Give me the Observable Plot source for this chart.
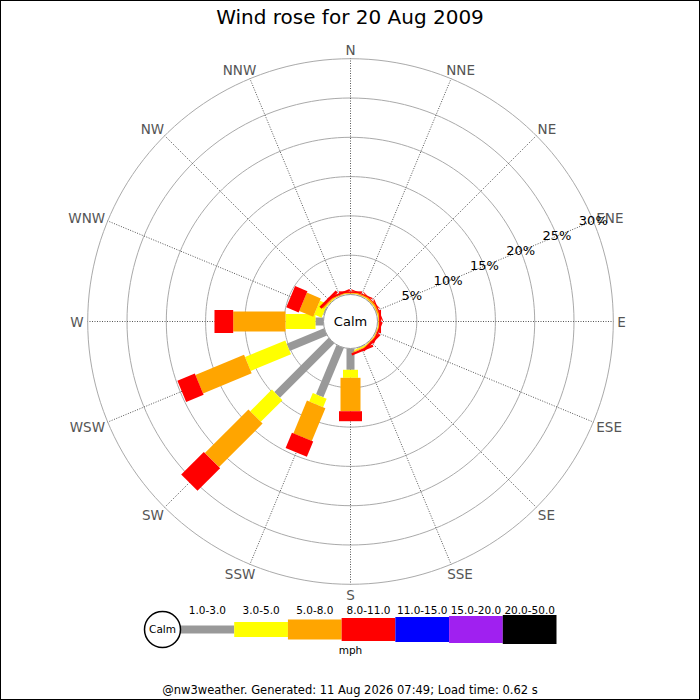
<!DOCTYPE html>
<html><head><meta charset="utf-8">
<script src="https://cdn.jsdelivr.net/npm/d3@7"></script>
<script src="https://cdn.jsdelivr.net/npm/@observablehq/plot@0.6"></script>
<style>
body{margin:0;background:#fff;font-family:"DejaVu Sans",sans-serif;}
#wrap{position:relative;width:700px;height:700px;overflow:hidden;background:#fff}
#title{position:absolute;left:0;top:0;width:700px;height:34px;line-height:34px;text-align:center;font-size:20px;color:#000}
#rose{position:absolute;left:0;top:34px}
#legend{position:absolute;left:0;top:598px}
#foot{position:absolute;left:0;top:680px;width:700px;height:20px;line-height:20px;text-align:center;font-size:11.5px;color:#000}
#frame{position:absolute;left:0;top:0;width:698px;height:698px;border:1px solid #000;pointer-events:none}
</style></head>
<body>
<div id="wrap">
  <div id="title">Wind rose for 20 Aug 2009</div>
  <div id="rose"></div>
  <div id="legend"></div>
  <div id="foot">@nw3weather. Generated: 11 Aug 2026 07:49; Load time: 0.62 s</div>
  <div id="frame"></div>
</div>
<script>
// ---- data ----
const directions = ["N","NNE","NE","ENE","E","ESE","SE","SSE","S","SSW","SW","WSW","W","WNW","NW","NNW"];
const speedBins = ["1.0-3.0","3.0-5.0","5.0-8.0","8.0-11.0","11.0-15.0","15.0-20.0","20.0-50.0"];
const binColors = ["#999999","#ffff00","#ffa500","#ff0000","#0000ff","#a020f0","#000000"];
// percentage of observations per direction, per speed bin (mph)
const pct1to3   = [0.05,0.05,0.05,0.05,0.05,0.05,0.05,0.10,2.71,6.80,9.76,5.15,1.02,0.15,0.05,0.05];
const pct3to5   = [0.05,0.05,0.05,0.05,0.05,0.05,0.05,0.15,1.02,1.18,3.90,5.55,3.81,1.03,0.10,0.05];
const pct5to8   = [0.10,0.15,0.20,0.20,0.10,0.10,0.10,0.10,4.25,4.52,7.83,6.70,6.66,1.92,0.15,0.10];
const pct8to11  = [0.20,0.15,0.10,0.15,0.25,0.20,0.30,0.30,1.27,2.10,4.07,2.40,2.38,1.70,0.40,0.25];
const pct11to15 = [0,0,0,0,0,0,0,0,0,0,0,0,0,0,0,0];
const pct15to20 = [0,0,0,0,0,0,0,0,0,0,0,0,0,0,0,0];
const pct20to50 = [0,0,0,0,0,0,0,0,0,0,0,0,0,0,0,0];
const binSeries = [pct1to3, pct3to5, pct5to8, pct8to11, pct11to15, pct15to20, pct20to50];
const ringValues = [5,10,15,20,25,30];
const ringLabels = ["5%","10%","15%","20%","25%","30%"];
const calmLabel = "Calm";
const unitLabel = "mph";

// ---- layout / style ----
const PX_PER_PCT = 7.86, CALM_PX = 27, OFF = CALM_PX / PX_PER_PCT;
const W = 700, H = 564, CX = 350, CY = 287;
const binWidths = [8, 15, 20, 23, 25, 27, 29];
const PCT_LABEL_ANGLE = 67.5;
const FONT = "DejaVu Sans";
const DIR_FONT = 13.5;

const angleOf = i => i * 22.5;
const rad = deg => deg * Math.PI / 180;
const px = (deg, p) => (p + OFF) * Math.sin(rad(deg));
const py = (deg, p) => (p + OFF) * Math.cos(rad(deg));

// text widths for placing compass labels next to the outer ring
const ctx = document.createElement("canvas").getContext("2d");
ctx.font = `${DIR_FONT}px "${FONT}"`;
const dirLabels = directions.map((d, i) => {
  const a = angleOf(i), s = Math.sin(rad(a)), c = Math.cos(rad(a));
  const w = ctx.measureText(d).width;
  const sign = Math.abs(s) < 0.01 ? 0 : Math.sign(s);
  const offX = sign * 4 + w * s / 2;      // pixels, right
  const offY = -c * 10 + 1.5;              // pixels, down
  return {d, x: px(a, 30) + offX / PX_PER_PCT, y: py(a, 30) - offY / PX_PER_PCT};
});

// segments
const segments = [];
directions.forEach((d, i) => {
  let cum = 0;
  binSeries.forEach((s, b) => {
    const v = s[i];
    if (v > 0) segments.push({dir: d, ang: angleOf(i), bin: b, start: cum, end: cum + v});
    cum += v;
  });
});

// ring outlines
const ringPts = [];
ringValues.forEach(r => { for (let a = 0; a <= 360; a += 2) ringPts.push({ring: r, a}); });

const spokes = directions.map((d, i) => ({dir: d, ang: angleOf(i)}));

const barMarks = speedBins.map((bn, b) =>
  Plot.link(segments.filter(s => s.bin === b), {
    x1: s => px(s.ang, s.start), y1: s => py(s.ang, s.start),
    x2: s => px(s.ang, s.end), y2: s => py(s.ang, s.end),
    stroke: binColors[b], strokeWidth: binWidths[b], strokeLinecap: "butt"
  }));

const rose = Plot.plot({
  width: W, height: H, margin: 0,
  style: {fontFamily: FONT, background: "transparent", overflow: "visible"},
  x: {domain: [-CX / PX_PER_PCT, (W - CX) / PX_PER_PCT], range: [0, W], axis: null},
  y: {domain: [-(H - CY) / PX_PER_PCT, CY / PX_PER_PCT], range: [H, 0], axis: null},
  marks: [
    Plot.line(ringPts, {x: d => px(d.a, d.ring), y: d => py(d.a, d.ring), z: "ring", stroke: "#aaaaaa", strokeWidth: 1}),
    Plot.link(spokes, {x1: 0, y1: 0, x2: d => px(d.ang, 30), y2: d => py(d.ang, 30), stroke: "#555", strokeWidth: 1, strokeDasharray: "1,1.5"}),
    ...barMarks,
    Plot.dot([{x: 0, y: 0}], {x: "x", y: "y", r: CALM_PX, fill: "white", stroke: "#999", strokeWidth: 1}),
    Plot.text([calmLabel], {x: () => 0, y: () => 0, text: d => d, fontSize: 13, fill: "#000"}),
    Plot.text(dirLabels, {x: "x", y: "y", text: "d", fontSize: DIR_FONT, fill: "#555"}),
    Plot.text(ringValues, {x: r => px(PCT_LABEL_ANGLE, r), y: r => py(PCT_LABEL_ANGLE, r), text: (r, i) => ringLabels[i], fontSize: 13, fill: "#000"})
  ]
});
document.getElementById("rose").appendChild(rose);

// ---- legend ----
const legendItems = speedBins.map((bn, i) => ({bin: bn, i}));
const legend = Plot.plot({
  width: W, height: 62, margin: 0,
  style: {fontFamily: FONT, background: "transparent", overflow: "visible"},
  x: {domain: [0, speedBins.length], range: [180, 556], axis: null},
  y: {domain: [-1, 1], axis: null},
  marks: [
    ...legendItems.map(d => Plot.link([d], {x1: d => d.i, x2: d => d.i + 1, y1: () => 0, y2: () => 0,
      stroke: binColors[d.i], strokeWidth: binWidths[d.i], strokeLinecap: "butt"})),
    Plot.text(legendItems, {x: d => d.i + 0.5, frameAnchor: "top", dy: 8, text: "bin", fontSize: 10.5, fill: "#000"}),
    Plot.dot([calmLabel], {frameAnchor: "left", dx: 162, r: 18, fill: "white", stroke: "#000"}),
    Plot.text([calmLabel], {frameAnchor: "left", dx: 162, textAnchor: "middle", text: d => d, fontSize: 10.5, fill: "#000"}),
    Plot.text([unitLabel], {frameAnchor: "bottom", dy: -7, text: d => d, fontSize: 10.5, fill: "#000"})
  ]
});
document.getElementById("legend").appendChild(legend);
</script>
</body></html>
